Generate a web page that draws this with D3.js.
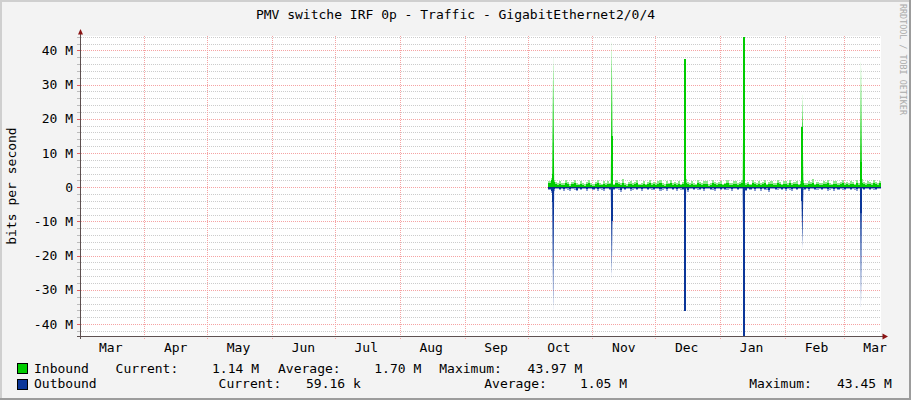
<!DOCTYPE html>
<html lang="en">
<head>
<meta charset="UTF-8">
<title>PMV switche IRF 0p - Traffic</title>
<script src="https://d3js.org/d3.v7.min.js"></script>
<style>
  body { margin: 0; background: #f3f3f3; }
  svg { display: block; font-family: "DejaVu Sans Mono", "Liberation Mono", monospace; }
  .lbl { font-size: 13px; fill: #000; }
</style>
</head>
<body>
<div id="chart"></div>
<script>
// chart text
const title = "PMV switche IRF 0p - Traffic - GigabitEthernet2/0/4";
const yTitle = "bits per second";
const watermark = "RRDTOOL / TOBI OETIKER";

// axis ticks
const monthLabels = ["Mar", "Apr", "May", "Jun", "Jul", "Aug", "Sep", "Oct", "Nov", "Dec", "Jan", "Feb", "Mar"];
const yTicks = [-40, -30, -20, -10, 0, 10, 20, 30, 40];
const yTickLabels = ["-40 M", "-30 M", "-20 M", "-10 M", "0", "10 M", "20 M", "30 M", "40 M"];

// daily values in Mbit/s, starting at firstDay
const firstDay = "2013-10-11";
const inAvg = [
  1.2, 2.0, 1.4, 0.9, 0.6, 1.0, 0.7, 0.5, 1.1, 0.8,
  0.4, 0.9, 1.2, 0.6, 0.5, 1.0, 0.7, 0.3, 0.9, 1.1,
  0.6, 0.4, 0.8, 1.2, 0.7, 0.5, 0.9, 0.6, 1.0, 0.8,
  0.7, 0.5, 1.1, 0.8, 0.6, 1.3, 0.7, 0.4, 0.9, 1.0,
  0.6, 0.8, 1.2, 0.5, 0.7, 1.0, 0.6, 0.9, 1.1, 0.5,
  0.8, 0.6, 1.0, 1.2, 0.7, 0.4, 0.9, 0.8, 1.1, 0.6,
  0.9, 0.7, 1.0, 0.5, 0.8, 1.3, 0.9, 0.6, 1.0, 0.7,
  0.5, 1.1, 0.8, 0.6, 0.9, 1.0, 0.4, 0.7, 1.2, 0.8,
  0.6, 0.9, 1.0, 0.5, 0.8, 1.1, 0.7, 0.6, 0.9, 1.0,
  0.7, 0.8, 1.2, 1.0, 0.6, 0.9, 0.5, 1.1, 0.8, 0.7,
  1.0, 0.6, 0.9, 1.2, 0.5, 0.8, 1.0, 0.7, 0.6, 1.1,
  0.8, 0.5, 0.9, 1.0, 0.7, 1.2, 0.6, 0.8, 1.0, 0.5,
  0.9, 1.1, 0.7, 0.6, 1.0, 0.8, 1.2, 0.5, 0.9, 0.7,
  0.6, 1.0, 0.8, 1.1, 0.7, 0.5, 0.9, 1.0, 0.6, 0.8,
  1.2, 0.7, 0.9, 0.6, 1.0, 0.8, 0.5, 1.1, 0.7, 1.3,
  0.9, 0.6, 1.0, 0.8, 0.7, 1.1, 0.9, 0.6, 1.1
];
const inMax = [
  1.9, 2.6, 2.2, 1.5, 1.2, 1.8, 1.1, 1.3, 2.0, 1.4,
  1.0, 1.6, 2.1, 1.1, 0.9, 1.9, 1.2, 0.8, 1.5, 2.0,
  1.3, 0.9, 1.4, 2.2, 1.1, 1.0, 1.7, 1.2, 1.9, 1.3,
  1.2, 1.0, 2.0, 1.4, 1.1, 2.3, 1.3, 0.9, 1.6, 1.8,
  1.1, 1.5, 2.1, 1.0, 1.3, 1.9, 1.0, 1.6, 2.0, 1.1,
  1.4, 1.2, 1.8, 2.2, 1.2, 0.9, 1.7, 1.3, 2.0, 1.1,
  1.6, 1.2, 1.9, 1.0, 1.4, 2.4, 1.5, 1.1, 1.8, 1.3,
  1.0, 2.0, 1.4, 1.1, 1.7, 1.8, 0.9, 1.2, 2.2, 1.5,
  1.2, 1.6, 1.9, 1.0, 1.3, 2.0, 1.3, 1.1, 1.7, 1.8,
  1.3, 1.4, 2.1, 1.9, 1.1, 1.6, 1.0, 2.0, 1.5, 1.2,
  1.8, 1.1, 1.6, 2.2, 1.0, 1.4, 1.9, 1.3, 1.1, 2.0,
  1.5, 1.0, 1.7, 1.9, 1.2, 2.2, 1.1, 1.4, 1.8, 1.0,
  1.7, 2.0, 1.3, 1.1, 1.9, 1.4, 2.3, 1.0, 1.6, 1.2,
  1.1, 1.8, 1.5, 2.0, 1.2, 1.0, 1.7, 1.9, 1.1, 1.4,
  2.1, 1.3, 1.6, 1.1, 1.8, 1.5, 1.0, 2.0, 1.3, 2.4,
  1.6, 1.1, 1.8, 1.4, 1.2, 2.0, 1.6, 1.1, 1.9
];
const outAvg = [
  0.5, 1.2, 0.6, 0.3, 0.2, 0.4, 0.3, 0.6, 0.2, 0.3,
  0.5, 0.2, 0.3, 0.7, 0.2, 0.4, 0.3, 0.2, 0.6, 0.3,
  0.2, 0.4, 0.3, 0.5, 0.2, 0.3, 0.6, 0.2, 0.3, 0.4,
  0.3, 0.5, 0.2, 0.3, 0.7, 0.2, 0.4, 0.3, 0.2, 0.5,
  0.3, 0.2, 0.4, 0.3, 0.6, 0.2, 0.3, 0.5, 0.2, 0.3,
  0.4, 0.2, 0.3, 0.5, 0.3, 0.2, 0.6, 0.3, 0.2, 0.4,
  0.3, 0.5, 0.2, 0.3, 0.4, 0.3, 0.8, 0.2, 0.3, 0.5,
  0.2, 0.3, 0.4, 0.2, 0.5, 0.3, 0.2, 0.4, 0.3, 0.6,
  0.2, 0.3, 0.5, 0.2, 0.4, 0.3, 0.2, 0.6, 0.3, 0.2,
  0.4, 0.3, 0.2, 0.3, 0.7, 0.2, 0.4, 0.3, 0.5, 0.2,
  0.3, 0.6, 0.2, 0.4, 0.3, 0.7, 0.2, 0.3, 0.5, 0.3,
  0.2, 0.4, 0.3, 0.6, 0.2, 0.3, 0.5, 0.2, 0.4, 0.3,
  0.2, 0.3, 0.4, 0.2, 0.6, 0.3, 0.2, 0.5, 0.3, 0.2,
  0.4, 0.3, 0.2, 0.5, 0.3, 0.2, 0.6, 0.3, 0.4, 0.2,
  0.3, 0.5, 0.2, 0.3, 0.4, 0.2, 0.3, 0.6, 0.2, 0.3,
  0.4, 0.2, 0.3, 0.5, 0.2, 0.3, 0.4, 0.2, 0.3
];
const outMax = [
  0.9, 1.8, 1.0, 0.6, 0.5, 0.8, 0.6, 1.1, 0.4, 0.7,
  1.0, 0.5, 0.7, 1.2, 0.4, 0.9, 0.6, 0.5, 1.1, 0.6,
  0.5, 0.8, 0.6, 1.0, 0.4, 0.7, 1.1, 0.5, 0.6, 0.8,
  0.6, 0.9, 0.5, 0.7, 1.3, 0.4, 0.8, 0.6, 0.5, 1.0,
  0.7, 0.4, 0.8, 0.6, 1.1, 0.5, 0.6, 0.9, 0.4, 0.7,
  0.8, 0.5, 0.6, 1.0, 0.7, 0.4, 1.1, 0.6, 0.5, 0.8,
  0.6, 1.0, 0.4, 0.7, 0.8, 0.6, 1.4, 0.5, 0.6, 0.9,
  0.5, 0.7, 0.8, 0.4, 1.0, 0.6, 0.5, 0.8, 0.7, 1.1,
  0.4, 0.6, 0.9, 0.5, 0.8, 0.7, 0.4, 1.1, 0.6, 0.5,
  0.8, 0.6, 0.5, 0.7, 1.2, 0.4, 0.8, 0.6, 1.0, 0.5,
  0.6, 1.1, 0.5, 0.8, 0.7, 1.3, 0.4, 0.6, 0.9, 0.7,
  0.5, 0.8, 0.6, 1.1, 0.4, 0.7, 1.0, 0.5, 0.8, 0.6,
  0.4, 0.7, 0.8, 0.5, 1.1, 0.6, 0.5, 0.9, 0.7, 0.4,
  0.8, 0.6, 0.4, 1.0, 0.7, 0.5, 1.1, 0.6, 0.8, 0.5,
  0.7, 0.9, 0.5, 0.6, 0.8, 0.4, 0.7, 1.2, 0.5, 0.6,
  0.8, 0.5, 0.6, 0.9, 0.4, 0.7, 0.8, 0.5, 0.6
];

// short traffic bursts: peak = top of the thin spike, core = sustained part
const spikeDates = ["2013-10-13", "2013-11-10", "2013-12-15", "2014-01-12", "2014-02-09", "2014-03-09"];
const inPeak  = [38.0, 42.5, 37.5, 43.97, 27.0, 36.7];
const inCore  = [4.0, 15.0, 37.5, 43.97, 17.7, 7.5];
const outPeak = [36.0, 26.5, 36.3, 43.45, 17.7, 35.0];
const outCore = [4.2, 10.0, 36.3, 43.45, 4.0, 7.4];

// legend
const seriesNames = ["Inbound", "Outbound"];
const seriesColors = ["#00cc00", "#0b3699"];
const seriesLight = ["#8fe68f", "#90a2d4"];
const currentVals = ["1.14 M", "59.16 k"];
const averageVals = ["1.70 M", "1.05 M"];
const maximumVals = ["43.97 M", "43.45 M"];

const W = 911, H = 400;
const plot = { left: 81, right: 880, top: 36, bottom: 336 };
const DAY = 864e5;

const svg = d3.select("#chart").append("svg")
  .attr("width", W).attr("height", H);

// background with bevelled border
svg.append("rect").attr("width", W).attr("height", H).attr("fill", "#f3f3f3");
svg.append("path").attr("d", `M0,${H}V0H${W}`).attr("fill", "none")
  .attr("stroke", "#cfcfcf").attr("stroke-width", 4);
svg.append("path").attr("d", `M0,${H}H${W}V0`).attr("fill", "none")
  .attr("stroke", "#9c9c9c").attr("stroke-width", 4);

svg.append("rect")
  .attr("x", plot.left).attr("y", plot.top)
  .attr("width", plot.right - plot.left + 1).attr("height", plot.bottom - plot.top)
  .attr("fill", "#fff");

// scales
const x = d3.scaleUtc()
  .domain([new Date(Date.UTC(2013, 2, 1, 18, 30)), new Date(Date.UTC(2014, 2, 18, 8, 0))])
  .range([plot.left, plot.right]);
const y = d3.scaleLinear().domain([-43.5, 44.2]).range([plot.bottom, plot.top]);

// grid
const grid = svg.append("g").attr("shape-rendering", "crispEdges");
const minor = d3.range(-42, 45, 2).filter(v => v % 10 !== 0);
grid.selectAll(".minor").data(minor).join("line")
  .attr("x1", plot.left).attr("x2", plot.right)
  .attr("y1", d => Math.round(y(d)) + 0.5).attr("y2", d => Math.round(y(d)) + 0.5)
  .attr("stroke", "#cccccc").attr("stroke-dasharray", "1,1");
grid.selectAll(".major").data(yTicks).join("line")
  .attr("x1", plot.left).attr("x2", plot.right)
  .attr("y1", d => Math.round(y(d)) + 0.5).attr("y2", d => Math.round(y(d)) + 0.5)
  .attr("stroke", "#f5a3a3").attr("stroke-dasharray", "1,1");
const monthStarts = d3.utcMonth.range(x.domain()[0], x.domain()[1]);
grid.selectAll(".vx").data(monthStarts).join("line")
  .attr("x1", d => Math.round(x(d)) + 0.5).attr("x2", d => Math.round(x(d)) + 0.5)
  .attr("y1", plot.top).attr("y2", plot.bottom + 3)
  .attr("stroke", "#f5a3a3").attr("stroke-dasharray", "1,1");

// data
svg.append("clipPath").attr("id", "clip").append("rect")
  .attr("x", plot.left).attr("y", plot.top)
  .attr("width", plot.right - plot.left + 1).attr("height", plot.bottom - plot.top);
const data = svg.append("g").attr("clip-path", "url(#clip)");

const t0 = new Date(firstDay + "T00:00:00Z");
const days = inAvg.map((v, i) => ({
  t: new Date(+t0 + i * DAY), ia: v, im: inMax[i], oa: outAvg[i], om: outMax[i]
}));
const last = days[days.length - 1];
const stepData = days.concat([{ ...last, t: new Date(+t0 + days.length * DAY) }]);

const stepArea = d3.area().curve(d3.curveStepAfter).x(d => x(d.t)).y0(y(0));
[["im", seriesLight[0], 1], ["ia", seriesColors[0], 1], ["om", seriesLight[1], -1], ["oa", seriesColors[1], -1]]
  .forEach(([key, col, sign]) => {
    data.append("path").datum(stepData)
      .attr("d", stepArea.y1(d => y(sign * d[key])))
      .attr("fill", col).attr("shape-rendering", "crispEdges");
  });

// spikes
const spikes = spikeDates.map((s, k) => ({
  t: new Date(s + "T00:00:00Z"),
  inPeak: inPeak[k], inCore: inCore[k], outPeak: outPeak[k], outCore: outCore[k]
}));
const tri = d3.area().x(d => x(d.t)).y0(y(0)).y1(d => y(d.v));
spikes.forEach(s => {
  const mid = +s.t + DAY / 4;
  [[s.inPeak, s.inCore, 1, 0], [s.outPeak, s.outCore, -1, 1]].forEach(([peak, core, sign, c]) => {
    data.append("path")
      .datum([{ t: new Date(mid - 0.5 * DAY), v: 0 }, { t: new Date(mid), v: sign * peak }, { t: new Date(mid + 0.5 * DAY), v: 0 }])
      .attr("d", tri).attr("fill", seriesColors[c]);
    data.append("path")
      .datum([{ t: new Date(mid - 0.5 * DAY), v: sign * core }, { t: new Date(mid + 0.5 * DAY), v: sign * core }])
      .attr("d", tri).attr("fill", seriesColors[c]).attr("shape-rendering", "crispEdges");
  });
});

// zero line across the data range
data.append("path").datum([stepData[0], stepData[stepData.length - 1]])
  .attr("d", d3.line().x(d => x(d.t)).y(() => Math.round(y(0)) + 0.5))
  .attr("stroke", "#0a2a80").attr("stroke-width", 1).attr("fill", "none");

// axes
const axisColor = "#5e5050", arrowColor = "#8b1414";
const ax = svg.append("g").attr("shape-rendering", "crispEdges");
ax.append("line").attr("x1", 80.5).attr("x2", 80.5).attr("y1", plot.bottom + 3).attr("y2", plot.top - 3)
  .attr("stroke", axisColor);
ax.append("line").attr("x1", 77).attr("x2", plot.right + 3).attr("y1", plot.bottom + 0.5).attr("y2", plot.bottom + 0.5)
  .attr("stroke", axisColor);
ax.selectAll(".tk").data(minor).join("line")
  .attr("x1", 77).attr("x2", 80).attr("y1", d => Math.round(y(d)) + 0.5).attr("y2", d => Math.round(y(d)) + 0.5)
  .attr("stroke", "#bbbbbb");
ax.selectAll(".tkM").data(yTicks).join("line")
  .attr("x1", 77).attr("x2", 80).attr("y1", d => Math.round(y(d)) + 0.5).attr("y2", d => Math.round(y(d)) + 0.5)
  .attr("stroke", "#e06060");
svg.append("path").attr("d", "M78,34.5L80.5,29L83,34.5Z").attr("fill", arrowColor);
svg.append("path").attr("d", `M882.5,333.5L888,336.5L882.5,339.5Z`).attr("fill", arrowColor);

// tick labels
svg.append("g").selectAll("text").data(yTicks).join("text")
  .attr("class", "lbl").attr("x", 73).attr("y", d => y(d) + 4.6)
  .attr("text-anchor", "end")
  .text((d, i) => yTickLabels[i]);

const labelDates = monthLabels.map((m, i) => d3.utcDay.offset(d3.utcMonth.offset(new Date(Date.UTC(2013, 2, 1)), i), 15));
svg.append("g").selectAll("text").data(labelDates).join("text")
  .attr("class", "lbl").attr("x", d => x(d)).attr("y", 351.5)
  .attr("text-anchor", "middle")
  .text((d, i) => monthLabels[i]);

// titles
svg.append("text").attr("class", "lbl").attr("x", 455.5).attr("y", 18.5)
  .attr("text-anchor", "middle").text(title);
svg.append("text").attr("class", "lbl")
  .attr("transform", `translate(16,${(plot.top + plot.bottom) / 2}) rotate(-90)`)
  .attr("text-anchor", "middle").text(yTitle);
svg.append("text")
  .attr("transform", "translate(900,4) rotate(90)")
  .style("font-size", "8.4px").attr("fill", "#aaaaaa").text(watermark);

// legend
const legendRows = [
  { y: 372.5, cols: [[116.3, "Current:"], [212.7, currentVals[0]], [278.7, "Average:"], [375, averageVals[0]], [440, "Maximum:"], [528.3, maximumVals[0]]] },
  { y: 388, cols: [[219.3, "Current:"], [306.7, currentVals[1]], [485, "Average:"], [580.7, averageVals[1]], [750, "Maximum:"], [837.7, maximumVals[1]]] }
];
legendRows.forEach((row, k) => {
  svg.append("rect").attr("x", 17.5).attr("y", row.y - 9).attr("width", 10).attr("height", 10)
    .attr("fill", seriesColors[k]).attr("stroke", "#000").attr("shape-rendering", "crispEdges");
  svg.append("text").attr("class", "lbl").attr("x", 34).attr("y", row.y).text(seriesNames[k]);
  row.cols.forEach(([cx, txt]) => {
    svg.append("text").attr("class", "lbl").attr("x", cx - 0.7).attr("y", row.y).text(txt);
  });
});
</script>
</body>
</html>
